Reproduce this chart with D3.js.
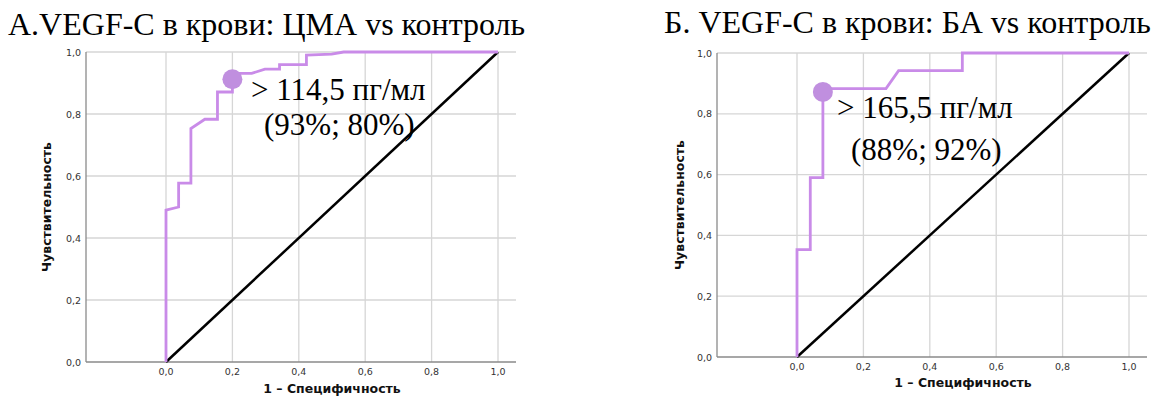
<!DOCTYPE html>
<html lang="ru">
<head>
  <meta charset="UTF-8">
  <title>VEGF-C ROC</title>
  <script src="https://d3js.org/d3.v7.min.js"></script>
  <style>
    body { margin: 0; background: white; }
    svg { display: block; }
    .title { font-family: "Liberation Serif", serif; font-size: 32px; fill: #000; }
    .note { font-family: "Liberation Serif", serif; font-size: 31px; fill: #000; }
    .tick { font-family: "DejaVu Sans", sans-serif; font-size: 9.5px; fill: #333; }
    .axis-title { font-family: "DejaVu Sans", sans-serif; font-size: 12.5px; font-weight: bold; fill: #111; }
    .grid { stroke: #d6d6d6; stroke-width: 1.3; }
    .axis-line { stroke: #8a8a8a; stroke-width: 1.3; }
  </style>
</head>
<body>
  <svg id="chart"></svg>
  <script>
    const width = 1155;
    const height = 397;

    // ticks on both axes
    const tickValues = [0, 0.2, 0.4, 0.6, 0.8, 1.0];
    const fmt = d => d3.format(".1f")(d).replace(".", ",");

    // Panel A: ЦМА vs контроль  (1 - specificity, sensitivity)
    const rocA = [[0, 0], [0, 0.49], [0.038, 0.50], [0.038, 0.577], [0.075, 0.577], [0.075, 0.753],
      [0.117, 0.783], [0.155, 0.783], [0.155, 0.871], [0.2, 0.871], [0.2, 0.931], [0.258, 0.931],
      [0.298, 0.945], [0.342, 0.945], [0.342, 0.959], [0.423, 0.959], [0.423, 0.99], [0.499, 0.993],
      [0.535, 1], [1, 1]];
    const cutA = [0.2, 0.912];
    const noteA = ["> 114,5 пг/мл", "(93%; 80%)"];
    const titleA = "A.VEGF-C в крови: ЦМА vs контроль";

    // Panel B: БА vs контроль
    const rocB = [[0, 0], [0, 0.353], [0.04, 0.353], [0.04, 0.59], [0.078, 0.59], [0.078, 0.883],
      [0.268, 0.883], [0.306, 0.942], [0.498, 0.942], [0.498, 1], [1, 1]];
    const cutB = [0.078, 0.872];
    const noteB = ["> 165,5 пг/мл", "(88%; 92%)"];
    const titleB = "Б. VEGF-C в крови: БА vs контроль";

    const refLine = [[0, 0], [1, 1]];

    const svg = d3.select("#chart").attr("width", width).attr("height", height);

    function panel(cfg) {
      const x = d3.scaleLinear().domain([0, 1]).range([cfg.x0, cfg.x1]);
      const y = d3.scaleLinear().domain([0, 1]).range([cfg.y0, cfg.y1]);
      const g = svg.append("g");

      g.append("text").attr("class", "title")
        .attr("x", cfg.titleX).attr("y", cfg.titleY).text(cfg.title);

      // grid
      g.selectAll(".gx").data(tickValues).enter().append("line")
        .attr("class", "grid")
        .attr("x1", d => x(d)).attr("x2", d => x(d))
        .attr("y1", y(0)).attr("y2", y(1));
      g.selectAll(".gy").data(tickValues.slice(1)).enter().append("line")
        .attr("class", "grid")
        .attr("x1", cfg.left).attr("x2", cfg.right)
        .attr("y1", d => y(d)).attr("y2", d => y(d));

      // axis lines
      g.append("line").attr("class", "axis-line")
        .attr("x1", cfg.left).attr("x2", cfg.left).attr("y1", y(0)).attr("y2", y(1));
      g.append("line").attr("class", "axis-line")
        .attr("x1", cfg.left).attr("x2", cfg.right).attr("y1", y(0)).attr("y2", y(0));

      // tick labels
      g.selectAll(".tx").data(tickValues).enter().append("text")
        .attr("class", "tick").attr("text-anchor", "middle")
        .attr("x", d => x(d)).attr("y", y(0) + cfg.xTickDy).text(fmt);
      g.selectAll(".ty").data(tickValues).enter().append("text")
        .attr("class", "tick").attr("text-anchor", "end")
        .attr("x", cfg.left - 5).attr("y", d => y(d) + 3.5).text(fmt);

      // axis titles
      g.append("text").attr("class", "axis-title").attr("text-anchor", "middle")
        .attr("x", x(0.5)).attr("y", cfg.xTitleY).text("1 – Специфичность");
      g.append("text").attr("class", "axis-title").attr("text-anchor", "middle")
        .attr("transform", `translate(${cfg.yTitleX},${(y(0) + y(1)) / 2}) rotate(-90)`)
        .text("Чувствительность");

      const line = d3.line().x(d => x(d[0])).y(d => y(d[1]));

      g.append("path").datum(refLine).attr("d", line)
        .attr("fill", "none").attr("stroke", "#000").attr("stroke-width", 2.5);
      g.append("path").datum(cfg.roc).attr("d", line)
        .attr("fill", "none").attr("stroke", "#c98be8").attr("stroke-width", 2.8)
        .attr("stroke-linejoin", "miter");

      g.append("circle").attr("cx", x(cfg.cut[0])).attr("cy", y(cfg.cut[1])).attr("r", 10)
        .attr("fill", "#c08fdf");

      g.selectAll(".note").data(cfg.note).enter().append("text")
        .attr("class", "note")
        .attr("x", (d, i) => cfg.noteX[i]).attr("y", (d, i) => cfg.noteY[i])
        .text(d => d);
    }

    panel({
      title: titleA, titleX: 8, titleY: 35,
      x0: 166, x1: 498, y0: 362, y1: 52, left: 86, right: 516,
      xTickDy: 13, xTitleY: 393, yTitleX: 51,
      roc: rocA, cut: cutA, note: noteA, noteX: [251, 264], noteY: [100, 135]
    });

    panel({
      title: titleB, titleX: 664, titleY: 33,
      x0: 797, x1: 1129, y0: 357, y1: 53, left: 717, right: 1147,
      xTickDy: 13, xTitleY: 387, yTitleX: 684,
      roc: rocB, cut: cutB, note: noteB, noteX: [837, 851], noteY: [118, 160]
    });
  </script>
</body>
</html>
